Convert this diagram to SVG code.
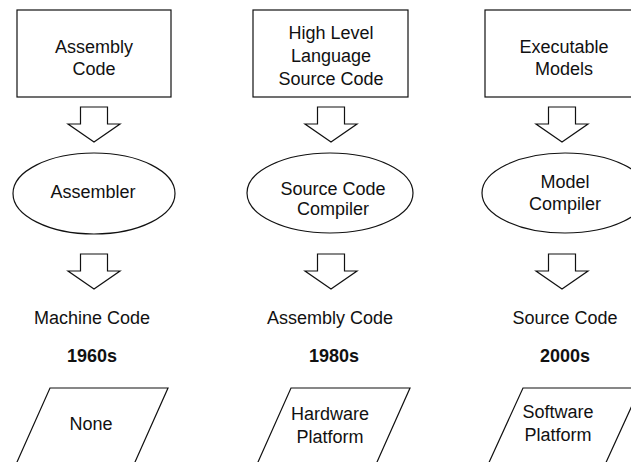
<svg xmlns="http://www.w3.org/2000/svg" width="631" height="462" viewBox="0 0 631 462">
<style>
.s{fill:#fff;stroke:#111;stroke-width:1.2}
.t{font-family:"Liberation Sans",Arial,sans-serif;font-size:18px;fill:#111;text-anchor:middle}
.b{font-weight:bold}
.a{fill:#fff;stroke:#111;stroke-width:1.2;stroke-linejoin:miter}
</style>
<defs>
<path id="arr" d="M-13.5,0 H13.5 V17 H26 L0,35 L-26,17 H-13.5 Z"/>
</defs>
<rect width="631" height="462" fill="#fff"/>
<g id="col1">
<g id="box1"><rect class="s" x="17" y="10" width="154" height="87"/><text class="t" x="94" y="53">Assembly</text><text class="t" x="94" y="75">Code</text></g>
<g id="ell1"><ellipse class="s" cx="94" cy="193.5" rx="81" ry="40.5"/><text class="t" x="93" y="198">Assembler</text></g>
<g id="out1"><text class="t" x="92" y="324">Machine Code</text></g>
<g id="year1"><text class="t b" x="92" y="362">1960s</text></g>
<g id="plat1"><polygon class="s" points="50,388 168,388 127,480 9,480"/><text class="t" x="91" y="430">None</text></g>
</g>
<g id="col2">
<g id="box2"><rect class="s" x="253" y="10" width="155" height="87"/><text class="t" x="331" y="39">High Level</text><text class="t" x="331" y="62">Language</text><text class="t" x="331" y="85">Source Code</text></g>
<g id="ell2"><ellipse class="s" cx="330" cy="193" rx="83" ry="40"/><text class="t" x="333" y="195">Source Code</text><text class="t" x="333" y="215">Compiler</text></g>
<g id="out2"><text class="t" x="330" y="324">Assembly Code</text></g>
<g id="year2"><text class="t b" x="334" y="362">1980s</text></g>
<g id="plat2"><polygon class="s" points="291,388 410,388 369,480 250,480"/><text class="t" x="330" y="420">Hardware</text><text class="t" x="330" y="443">Platform</text></g>
</g>
<g id="col3">
<g id="box3"><rect class="s" x="485" y="10" width="160" height="87"/><text class="t" x="564" y="53">Executable</text><text class="t" x="564" y="75">Models</text></g>
<g id="ell3"><ellipse class="s" cx="565" cy="193" rx="83" ry="40"/><text class="t" x="565" y="188">Model</text><text class="t" x="565" y="210">Compiler</text></g>
<g id="out3"><text class="t" x="565" y="324">Source Code</text></g>
<g id="year3"><text class="t b" x="565" y="362">2000s</text></g>
<g id="plat3"><polygon class="s" points="523,388 640,388 598,480 481,480"/><text class="t" x="558" y="418">Software</text><text class="t" x="558" y="441">Platform</text></g>
</g>
<g id="connectors">
<use href="#arr" class="a" x="94" y="107"/>
<use href="#arr" class="a" x="94" y="254"/>
<use href="#arr" class="a" x="331" y="107"/>
<use href="#arr" class="a" x="331" y="254"/>
<use href="#arr" class="a" x="562" y="107"/>
<use href="#arr" class="a" x="562" y="254"/>
</g>
</svg>
